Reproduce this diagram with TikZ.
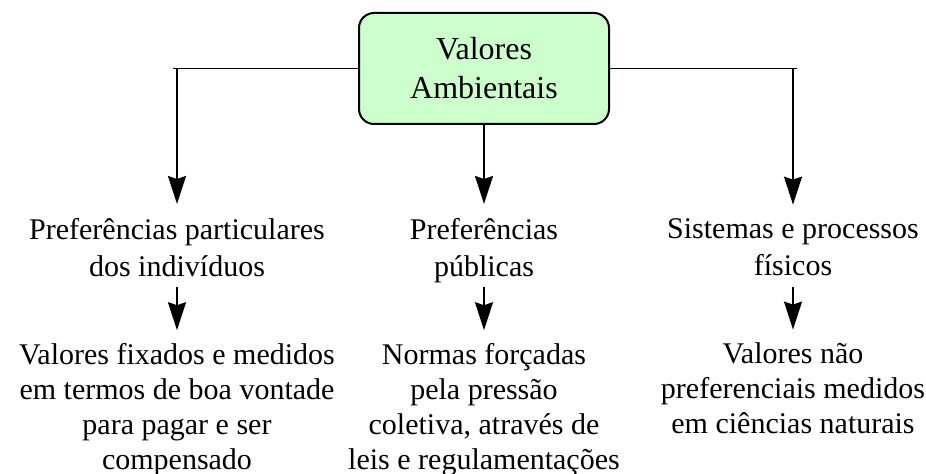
\documentclass[tikz,border=0pt]{standalone}
\usepackage{fontspec}
\setmainfont{Liberation Serif}
\usetikzlibrary{calc}
\usetikzlibrary{positioning}
\usetikzlibrary{arrows.meta}
\tikzstyle{valor} = [rectangle, draw, line width=1pt, fill=green!20,
    rounded corners=7.5pt, minimum width=125pt, minimum height=55.5pt,
    align=center, font=\fontsize{16}{19.5}\selectfont]
\tikzstyle{pref} = [inner sep=0pt, outer sep=0pt, align=center,
    font=\fontsize{15}{18.5}\selectfont,
    execute at begin node=\strut, execute at end node=\strut]
\tikzstyle{norma} = [pref, font=\fontsize{15}{17.5}\selectfont]
\tikzstyle{ramo} = [draw, line width=0.9pt]
\tikzstyle{line} = [draw, line width=0.9pt,
    -{Stealth[length=14pt, width=9pt, inset=1.5pt]}]

\begin{document}
\begin{tikzpicture}[x=0.5pt, y=-0.5pt, node distance=28pt]
    \useasboundingbox (0,0) rectangle (926,474);
    % Top box and first row
    \node [valor] (va) at (484,68.5) {Valores\\Ambientais};
    \node [pref, below=46.5pt of va] (pp) {Preferências\\públicas};
    \node [pref, left of=pp, node distance=153.5pt] (pi) {Preferências particulares\\dos indivíduos};
    \node [pref, right of=pp, node distance=154.5pt] (sf) {Sistemas e processos\\físicos};
    % Second row
    \node [norma, below=of pi] (vf) {Valores fixados e medidos\\em termos de boa vontade\\para pagar e ser\\compensado};
    \node [norma, below=of pp] (nf) {Normas forçadas\\pela pressão\\coletiva, através de\\leis e regulamentações};
    \node [norma, below=of sf] (vn) {Valores não\\preferenciais medidos\\em ciências naturais};
    % Branches from the top box
    \path [ramo] (va.west) -- ($(va.west -| pi.north)+(-2pt,0)$);
    \path [ramo] (va.east) -- ($(va.east -| sf.north)+(2pt,0)$);
    \path [line, shorten >=7pt] (va.west -| pi.north) -- (pi.north);
    \path [line, shorten >=7pt] (va.south) -- (pp.north);
    \path [line, shorten >=7pt] (va.east -| sf.north) -- (sf.north);
    % Down to the second row
    \path [line, shorten >=6.5pt] (pi.south) -- (vf.north);
    \path [line, shorten >=6.5pt] (pp.south) -- (nf.north);
    \path [line, shorten >=6.5pt] (sf.south) -- (vn.north);
\end{tikzpicture}
\end{document}
